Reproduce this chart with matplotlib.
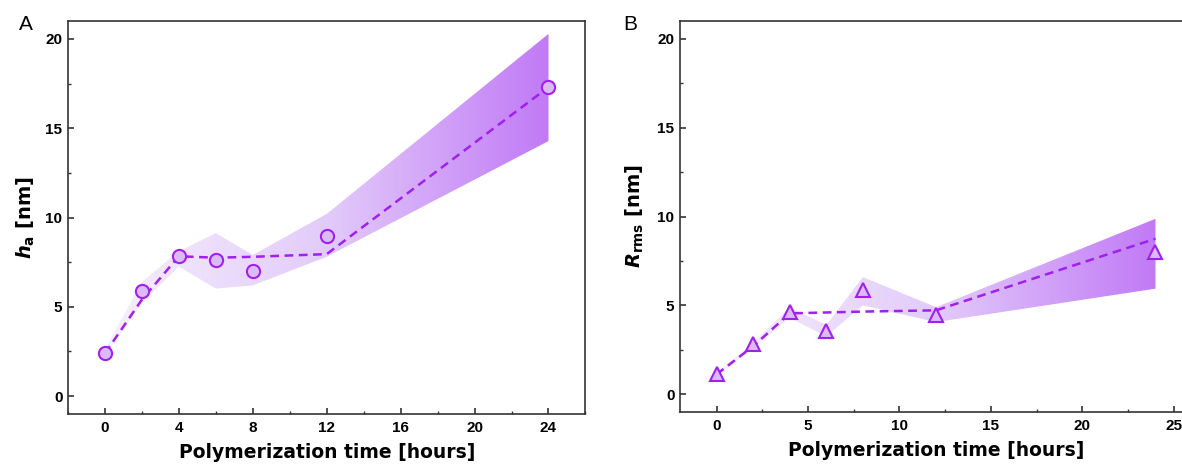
import matplotlib
matplotlib.use('Agg')
import matplotlib.pyplot as plt
import numpy as np
from matplotlib.colors import LinearSegmentedColormap
from matplotlib.ticker import MultipleLocator

plt.rcParams['font.family'] = ['DejaVu Sans']
plt.rcParams['mathtext.fontset'] = 'custom'
plt.rcParams['mathtext.rm'] = 'DejaVu Sans:bold'
plt.rcParams['mathtext.it'] = 'DejaVu Sans:italic:bold'
plt.rcParams['mathtext.bf'] = 'DejaVu Sans:bold'

# polymerization time points (hours)
time = [0, 2, 4, 6, 8, 12, 24]

# average height h_a (nm)
ha = [2.39, 5.87, 7.83, 7.6, 6.99, 8.98, 17.3]
ha_trend = [2.39, 5.4, 7.83, 7.75, 7.8, 7.95, 17.3]
ha_upper = [2.6, 6.4, 8.1, 9.13, 7.9, 10.2, 20.28]
ha_lower = [2.3, 5.2, 7.25, 6.02, 6.2, 7.8, 14.28]

# rms roughness R_rms (nm)
rrms = [1.12, 2.83, 4.62, 3.53, 5.88, 4.47, 8.0]
rrms_trend = [1.12, 2.7, 4.55, 4.6, 4.65, 4.72, 8.75]
rrms_upper = [1.2, 2.9, 4.9, 3.9, 6.59, 4.9, 9.87]
rrms_lower = [1.0, 2.6, 4.3, 3.25, 5.0, 4.06, 5.94]

line_col = '#a020f0'
face_col = '#dcb9f7'
band_cmap = LinearSegmentedColormap.from_list(
    'band', ['#f7effd', '#e2cbfa', '#c17af6'])


def gradient_band(ax, x, lo, hi):
    poly = ax.fill_between(x, lo, hi, facecolor='none', edgecolor='none')
    grad = np.linspace(0, 1, 256).reshape(1, -1)
    img = ax.imshow(grad, cmap=band_cmap, aspect='auto', origin='lower',
                    extent=[min(x), max(x), min(lo), max(hi)], zorder=1)
    path = poly.get_paths()[0]
    img.set_clip_path(path, transform=ax.transData)


def style_axes(ax, xmajor, xminor):
    ax.set_xlim(-2, 26)
    ax.set_ylim(-1, 21)
    ax.xaxis.set_major_locator(MultipleLocator(xmajor))
    ax.xaxis.set_minor_locator(MultipleLocator(xminor))
    ax.yaxis.set_major_locator(MultipleLocator(5))
    ax.yaxis.set_minor_locator(MultipleLocator(2.5))
    ax.tick_params(which='major', direction='in', length=4.3, width=1.2,
                   labelsize=11, color='#333333')
    ax.tick_params(which='minor', direction='in', length=2.3, width=1.0,
                   color='#333333')
    ax.tick_params(axis='x', which='major', pad=5)
    ax.tick_params(axis='y', which='major', pad=4)
    for lab in ax.get_xticklabels() + ax.get_yticklabels():
        lab.set_fontweight('bold')
        lab.set_family('Liberation Sans')
    for sp in ax.spines.values():
        sp.set_linewidth(1.2)
        sp.set_color('#333333')
    ax.set_xlabel('Polymerization time [hours]', fontsize=13.5,
                  fontweight='bold', labelpad=6)


fig = plt.figure(figsize=(11.82, 4.65), dpi=100)

axA = fig.add_axes([0.0575, 0.1097, 0.4378, 0.8451])
gradient_band(axA, time, ha_lower, ha_upper)
axA.plot(time, ha_trend, color=line_col, lw=1.8, ls=(0, (3.5, 2.2)), zorder=3)
axA.plot(time, ha, ls='none', marker='o', ms=9.5, mfc=face_col,
         mec=line_col, mew=1.5, zorder=4)
style_axes(axA, 4, 2)
axA.set_ylabel(r'$h_{\mathrm{a}}$ [nm]', fontsize=14, fontweight='bold',
               labelpad=6)
fig.text(0.016, 0.935, 'A', fontsize=15, family='Liberation Sans')

axB = fig.add_axes([0.5753, 0.114, 0.4332, 0.8408])
gradient_band(axB, time, rrms_lower, rrms_upper)
axB.plot(time, rrms_trend, color=line_col, lw=1.8, ls=(0, (3.5, 2.2)), zorder=3)
axB.plot(time, rrms, ls='none', marker='^', ms=10.5, mfc=face_col,
         mec=line_col, mew=1.5, zorder=4)
style_axes(axB, 5, 2.5)
axB.set_ylabel(r'$R_{\mathrm{rms}}$ [nm]', fontsize=14, fontweight='bold',
               labelpad=8)
fig.text(0.527, 0.935, 'B', fontsize=15, family='Liberation Sans')

fig.savefig('out.png', dpi=100)
